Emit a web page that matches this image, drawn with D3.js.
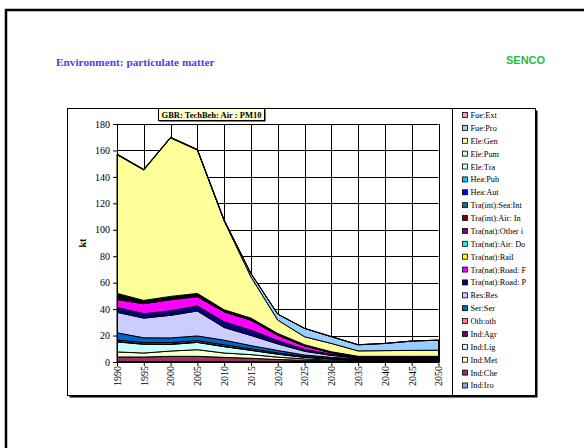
<!DOCTYPE html>
<html><head><meta charset="utf-8">
<script src="https://cdn.jsdelivr.net/npm/d3@7"></script>
<style>body{margin:0;background:#fff} svg{display:block}</style>
</head><body><svg id="c" width="584" height="448"></svg>
<script>
const years = [1990,1995,2000,2005,2010,2015,2020,2025,2030,2035,2040,2045,2050];
const yTicks = [0,20,40,60,80,100,120,140,160,180];
const pageTitle = "Environment: particulate matter";
const brand = "SENCO";
const chartTitle = "GBR: TechBeh: Air : PM10";
const yLabel = "kt";

// stack order: bottom -> top
const seriesNames = ["Ind:Iro","Ind:Che","Ind:Met","Ind:Lig","Ind:Agr","Oth:oth","Ser:Ser","Res:Res",
  "Tra(nat):Road: P","Tra(nat):Road: F","Tra(nat):Rail","Tra(nat):Air: Do","Tra(nat):Other i",
  "Tra(int):Air: In","Tra(int):Sea:Int","Hea:Aut","Hea:Pub","Ele:Tra","Ele:Pum","Ele:Gen","Fue:Pro","Fue:Ext"];
const seriesColors = ["#9999FF","#993366","#FFFFCC","#CCFFFF","#660066","#FF8080","#0066CC","#CCCCFF",
  "#000080","#FF00FF","#FFFF00","#00FFFF","#800080",
  "#800000","#008080","#0000FF","#00CCFF","#CCFFFF","#CCFFCC","#FFFF99","#99CCFF","#FF99CC"];

const indIro   = [0.3,0.3,0.3,0.3,0.3,0.3,0.3,0.3,0.2,0.2,0.2,0.2,0.2];
const indChe   = [3.5,3.5,4.0,4.0,3.2,2.5,1.6,1.0,0.6,0.5,0.5,0.5,0.5];
const indMet   = [3.8,3.0,4.0,5.0,3.3,2.8,1.8,1.0,0.6,0.4,0.4,0.4,0.4];
const indLig   = [7.6,6.6,5.0,5.5,4.8,3.2,2.2,1.2,0.8,0.4,0.4,0.4,0.4];
const indAgr   = [0.4,0.4,0.4,0.4,0.4,0.3,0.3,0.2,0.2,0.2,0.2,0.2,0.2];
const othOth   = [1.0,1.0,1.0,1.0,1.0,0.9,0.7,0.5,0.4,0.3,0.3,0.3,0.3];
const serSer   = [5.5,3.5,3.5,3.5,3.5,2.4,1.8,1.1,0.7,0.4,0.4,0.4,0.4];
const resRes   = [15.5,14.9,17.1,18.9,9.6,7.7,5.0,2.8,1.5,0.5,0.5,0.5,0.5];
const roadP    = [3.8,3.3,3.5,3.8,4.3,4.0,2.5,1.5,0.8,0.3,0.3,0.3,0.3];
const roadF    = [5.8,7.6,8.3,7.0,7.5,7.5,4.0,2.5,1.2,0.4,0.4,0.4,0.4];
const rail     = [0.4,0.3,0.3,0.3,0.2,0.2,0.2,0.1,0.1,0.1,0.1,0.1,0.1];
const airDo    = [0.6,0.3,0.3,0.3,0.2,0.2,0.2,0.1,0.1,0.1,0.1,0.1,0.1];
const otherI   = [0.9,0.4,0.4,0.4,0.3,0.3,0.2,0.2,0.1,0.1,0.1,0.1,0.1];
const airIn    = [1.0,0.5,0.5,0.5,0.3,0.3,0.2,0.2,0.1,0.1,0.1,0.1,0.1];
const seaInt   = [0.8,0.4,0.4,0.4,0.2,0.2,0.2,0.1,0.1,0.1,0.1,0.1,0.1];
const heaAut   = [0.3,0.2,0.2,0.2,0.1,0.1,0.1,0.1,0.1,0.05,0.05,0.05,0.05];
const heaPub   = [0.3,0.2,0.2,0.2,0.1,0.1,0.1,0.1,0.05,0.05,0.05,0.05,0.05];
const eleTra   = [0.2,0.1,0.1,0.1,0.1,0.1,0.1,0.05,0.05,0.05,0.05,0.05,0.05];
const elePum   = [0.2,0.1,0.1,0.1,0.1,0.1,0.1,0.05,0.05,0.05,0.05,0.05,0.05];
const eleGen   = [104.9,98.6,119.9,108.4,67.2,31.2,10.1,6.0,6.3,4.1,4.3,4.5,4.6];
const fuePro   = [0.3,0.3,0.3,0.3,0.5,2.5,4.5,6.3,5.1,4.6,5.4,7.0,7.6];
const fueExt   = [0.2,0.2,0.2,0.2,0.2,0.1,0.1,0.1,0.1,0.1,0.1,0.1,0.1];

const seriesValues = [indIro,indChe,indMet,indLig,indAgr,othOth,serSer,resRes,roadP,roadF,rail,airDo,otherI,
  airIn,seaInt,heaAut,heaPub,eleTra,elePum,eleGen,fuePro,fueExt];

const serif = "'Liberation Serif','Times New Roman',serif";
const sans = "'Liberation Sans',Arial,sans-serif";
const svg = d3.select("#c");

svg.append("rect").attr("width",584).attr("height",448).attr("fill","#fff");
// outer page frame
svg.append("path").attr("d","M6,700 V10 H700").attr("fill","none").attr("stroke","#000").attr("stroke-width",2.5);

svg.append("text").attr("x",56).attr("y",66).attr("font-family",serif).attr("font-weight","bold")
  .attr("font-size",11.3).attr("fill","#4646E0").text(pageTitle);
svg.append("text").attr("x",506).attr("y",64).attr("font-family",sans).attr("font-weight","bold")
  .attr("font-size",11).attr("fill","#22C040").text(brand);

// chart box with shadow
svg.append("rect").attr("x",69.5).attr("y",110.5).attr("width",468).attr("height",287).attr("fill","#000");
svg.append("rect").attr("x",67.5).attr("y",108.5).attr("width",468).attr("height",287).attr("fill","#fff").attr("stroke","#000");
svg.append("line").attr("x1",452.5).attr("x2",452.5).attr("y1",108.5).attr("y2",395.5).attr("stroke","#000");

const x = d3.scaleLinear().domain([1990,2050]).range([117,438.5]);
const y = d3.scaleLinear().domain([0,180]).range([362,124]);

// gridlines
const grid = svg.append("g").attr("stroke","#000").attr("stroke-width",1);
grid.selectAll(".h").data(yTicks.slice(1)).join("line")
  .attr("x1",x(1990)).attr("x2",x(2050)).attr("y1",d=>Math.round(y(d))+0.5).attr("y2",d=>Math.round(y(d))+0.5);
grid.selectAll(".v").data(years.slice(1)).join("line")
  .attr("y1",y(180)).attr("y2",y(0)).attr("x1",d=>Math.round(x(d))+0.5).attr("x2",d=>Math.round(x(d))+0.5);

// stacked areas
const table = years.map((yr,i)=>{const o={year:yr}; seriesNames.forEach((n,k)=>o[n]=seriesValues[k][i]); return o;});
const stacked = d3.stack().keys(seriesNames)(table);
const area = d3.area().x(d=>x(d.data.year)).y0(d=>y(d[0])).y1(d=>y(d[1]));
svg.append("g").selectAll("path").data(stacked).join("path")
  .attr("d",area).attr("fill",(d,i)=>seriesColors[i]).attr("stroke","#000").attr("stroke-width",1)
  .attr("stroke-linejoin","round");

// axes
const yAxis = svg.append("g").attr("transform","translate(117,0)")
  .call(d3.axisLeft(y).tickValues(yTicks).tickSize(4).tickSizeOuter(0).tickPadding(3));
yAxis.selectAll("text").attr("font-family",serif).attr("font-size",10).attr("fill","#000");
yAxis.selectAll("line,path").attr("stroke","#000");

const xAxis = svg.append("g").attr("transform","translate(0,362)")
  .call(d3.axisBottom(x).tickValues(years).tickFormat(d3.format("d")).tickSize(4).tickSizeOuter(0));
xAxis.selectAll("text").attr("font-family",serif).attr("font-size",10).attr("fill","#000")
  .attr("transform","rotate(-90)").attr("text-anchor","end").attr("x",-4).attr("y",0).attr("dy","0.33em");
xAxis.selectAll("line,path").attr("stroke","#000");

svg.append("text").attr("transform","translate(86,243) rotate(-90)").attr("text-anchor","middle")
  .attr("font-family",serif).attr("font-weight","bold").attr("font-size",10).text(yLabel);

// chart title box
svg.append("rect").attr("x",159.5).attr("y",109.5).attr("width",106).attr("height",12).attr("fill","#000");
svg.append("rect").attr("x",158.5).attr("y",108.5).attr("width",106).attr("height",12).attr("fill","#FFFFCC").attr("stroke","#000");
svg.append("text").attr("x",211.5).attr("y",117.8).attr("text-anchor","middle").attr("font-family",serif)
  .attr("font-weight","bold").attr("font-size",8.5).text(chartTitle);

// legend (top of stack first)
const legendItems = seriesNames.map((n,i)=>({name:n,color:seriesColors[i]})).reverse();
const lg = svg.append("g").selectAll("g").data(legendItems).join("g")
  .attr("transform",(d,i)=>`translate(0,${115+i*12.88})`);
lg.append("rect").attr("x",462.5).attr("y",-2.5).attr("width",5).attr("height",5)
  .attr("fill",d=>d.color).attr("stroke","#000").attr("stroke-width",0.8);
lg.append("text").attr("x",470.5).attr("y",3).attr("font-family",serif).attr("font-size",8.3).text(d=>d.name);
</script></body></html>
